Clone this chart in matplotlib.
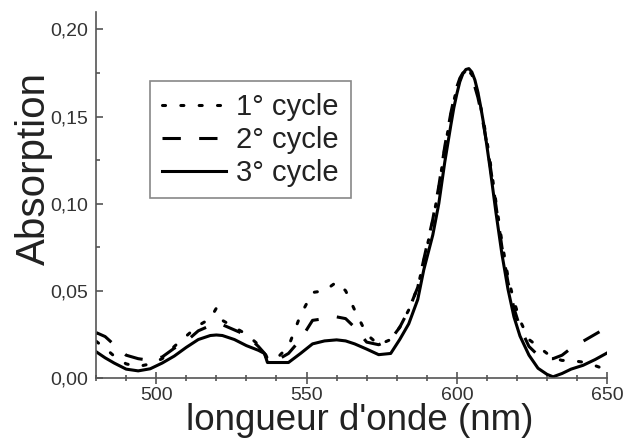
import matplotlib
matplotlib.use("Agg")
import matplotlib.pyplot as plt
from matplotlib.ticker import MultipleLocator, FuncFormatter

plt.rcParams["font.family"] = ["Liberation Sans", "DejaVu Sans"]

# wavelengths (nm) and absorption of the three cycles
wl = [480, 483, 486, 490, 494, 498, 502, 506, 510, 514,
      518, 520, 522, 526, 530, 534, 536, 537, 540, 544,
      548, 552, 556, 560, 563, 566, 570, 574, 578, 581,
      584, 587, 589, 592, 594, 596, 598, 599, 600, 601,
      602, 603, 604, 605, 606, 607, 608, 609, 610, 611,
      612, 613, 615, 617, 619, 621, 624, 627, 630, 632,
      635, 638, 642, 646, 650]

cycle1 = [0.021, 0.017, 0.0125, 0.008, 0.0065, 0.008, 0.011, 0.018, 0.024, 0.030,
          0.034, 0.040, 0.033, 0.029, 0.025, 0.019, 0.015, 0.011, 0.011, 0.018,
          0.036, 0.049, 0.050, 0.055, 0.050, 0.039, 0.025, 0.019, 0.022, 0.029,
          0.039, 0.052, 0.067, 0.090, 0.109, 0.132, 0.151, 0.159, 0.166, 0.171,
          0.175, 0.1765, 0.176, 0.174, 0.169, 0.163, 0.155, 0.146, 0.136, 0.125,
          0.113, 0.101, 0.078, 0.058, 0.044, 0.033, 0.022, 0.018, 0.014, 0.0115,
          0.010, 0.010, 0.009, 0.007, 0.0045]

cycle2 = [0.026, 0.0237, 0.019, 0.013, 0.011, 0.010, 0.012, 0.017, 0.021, 0.027,
          0.030, 0.031, 0.0305, 0.0275, 0.0245, 0.018, 0.0141, 0.010, 0.010, 0.014,
          0.022, 0.033, 0.034, 0.035, 0.034, 0.029, 0.0205, 0.019, 0.022, 0.029,
          0.039, 0.052, 0.068, 0.091, 0.110, 0.133, 0.152, 0.160, 0.167, 0.172,
          0.175, 0.176, 0.175, 0.172, 0.167, 0.161, 0.153, 0.144, 0.134, 0.123,
          0.111, 0.099, 0.075, 0.055, 0.040, 0.029, 0.018, 0.013, 0.011, 0.011,
          0.013, 0.017, 0.021, 0.025, 0.029]

cycle3 = [0.0150, 0.0115, 0.0085, 0.0050, 0.0040, 0.0052, 0.0085, 0.0125, 0.0175, 0.0220,
          0.0243, 0.0246, 0.0243, 0.0220, 0.0185, 0.0158, 0.0140, 0.0088, 0.0088, 0.0088,
          0.0140, 0.0195, 0.0212, 0.0218, 0.0212, 0.0195, 0.0165, 0.0133, 0.0140, 0.0220,
          0.031, 0.045, 0.062, 0.082, 0.100, 0.124, 0.145, 0.155, 0.163, 0.170,
          0.1745, 0.1770, 0.1775, 0.1755, 0.1710, 0.1640, 0.1550, 0.1450, 0.1330, 0.1210,
          0.108, 0.095, 0.071, 0.051, 0.035, 0.024, 0.013, 0.0055, 0.002, 0.0006,
          0.0025, 0.0050, 0.0072, 0.0105, 0.0143]

labels = ["1° cycle", "2° cycle", "3° cycle"]

fig = plt.figure(figsize=(6.24, 4.44), dpi=100)
ax = fig.add_axes([0.154, 0.149, 0.819, 0.824])

ax.plot(wl, cycle1, color="black", lw=2.2, linestyle=(0, (1, 5)),
        dash_capstyle="round", label=labels[0])
ax.plot(wl, cycle2, color="black", lw=2.2, linestyle=(0, (6, 6)), label=labels[1])
ax.plot(wl, cycle3, color="black", lw=2.2, label=labels[2])

ax.set_xlim(480, 650)
ax.set_ylim(0, 0.21)
ax.spines["top"].set_visible(False)
ax.spines["right"].set_visible(False)
for s in ["left", "bottom"]:
    ax.spines[s].set_color("#555555")
    ax.spines[s].set_linewidth(1.2)

ax.xaxis.set_major_locator(MultipleLocator(50))
ax.xaxis.set_minor_locator(MultipleLocator(10))
ax.yaxis.set_major_locator(MultipleLocator(0.05))
ax.yaxis.set_minor_locator(MultipleLocator(0.025))
ax.yaxis.set_major_formatter(FuncFormatter(lambda v, p: f"{v:.2f}".replace(".", ",")))

ax.tick_params(axis="x", which="major", direction="inout", length=9, width=1.2,
               colors="#555555", labelcolor="#333333", labelsize=14, pad=2)
ax.tick_params(axis="x", which="minor", direction="inout", length=5, width=1.2,
               colors="#555555")
ax.tick_params(axis="y", which="major", direction="in", length=5, width=1.2,
               colors="#555555", labelcolor="#333333", labelsize=14, pad=6)
ax.tick_params(axis="y", which="minor", direction="in", length=3, width=1.2,
               colors="#555555")

ax.set_xlabel("longueur d'onde (nm)", fontsize=26.5, color="#222222")
ax.xaxis.set_label_coords(0.515, -0.068)
ax.set_ylabel("Absorption", fontsize=29, color="#222222")
ax.yaxis.set_label_coords(-0.084, 0.571)

leg = ax.legend(loc="upper left", bbox_to_anchor=(0.106, 0.811), fontsize=21,
                handlelength=2.2, handletextpad=0.35, labelspacing=0.17,
                borderpad=0.4, borderaxespad=0, fancybox=False, framealpha=1)
leg.get_frame().set_edgecolor("#888888")
leg.get_frame().set_linewidth(1.2)
for t in leg.get_texts():
    t.set_color("#222222")

fig.savefig("out.png", dpi=100)
